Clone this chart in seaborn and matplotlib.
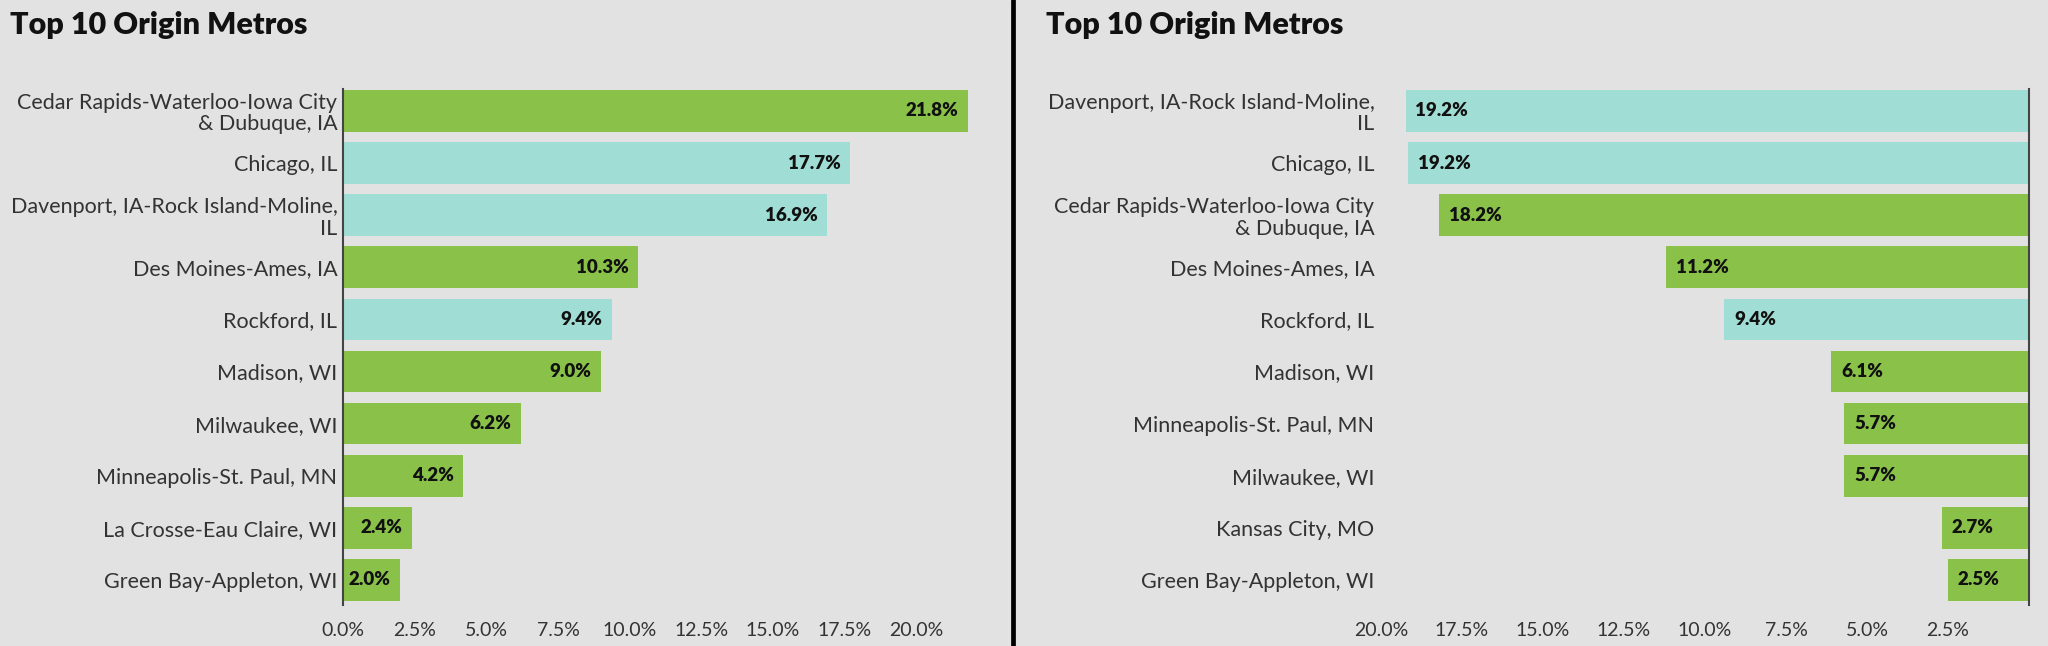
import matplotlib
matplotlib.use('Agg')
import matplotlib.pyplot as plt
import matplotlib.lines as mlines
import seaborn as sns
import pandas as pd

# Data for the two panels
left_metros = ['Cedar Rapids-Waterloo-Iowa City\n& Dubuque, IA', 'Chicago, IL',
               'Davenport, IA-Rock Island-Moline,\nIL', 'Des Moines-Ames, IA', 'Rockford, IL',
               'Madison, WI', 'Milwaukee, WI', 'Minneapolis-St. Paul, MN',
               'La Crosse-Eau Claire, WI', 'Green Bay-Appleton, WI']
left_share = [21.8, 17.7, 16.9, 10.3, 9.4, 9.0, 6.2, 4.2, 2.4, 2.0]
left_state = ['other', 'IL', 'IL', 'other', 'IL', 'other', 'other', 'other', 'other', 'other']

right_metros = ['Davenport, IA-Rock Island-Moline,\nIL', 'Chicago, IL',
                'Cedar Rapids-Waterloo-Iowa City\n& Dubuque, IA', 'Des Moines-Ames, IA',
                'Rockford, IL', 'Madison, WI', 'Minneapolis-St. Paul, MN', 'Milwaukee, WI',
                'Kansas City, MO', 'Green Bay-Appleton, WI']
right_share = [19.24, 19.16, 18.2, 11.2, 9.4, 6.1, 5.7, 5.7, 2.7, 2.5]
right_state = ['IL', 'IL', 'other', 'other', 'IL', 'other', 'other', 'other', 'other', 'other']

title = 'Top 10 Origin Metros'
left_ticks = [0, 2.5, 5, 7.5, 10, 12.5, 15, 17.5, 20]
right_ticks = [20, 17.5, 15, 12.5, 10, 7.5, 5, 2.5]

GREEN = '#8AC249'
TEAL = '#A0DDD4'
BG = '#E2E2E2'
palette = {'IL': TEAL, 'other': GREEN}

sns.set_theme(style='white', rc={'figure.facecolor': BG, 'axes.facecolor': BG})
plt.rcParams['font.family'] = ['Lato', 'DejaVu Sans']

W, H = 2048, 646
fig = plt.figure(figsize=(W / 100, H / 100), dpi=100)


def draw_panel(ax, metros, share, state, ticks, inverted):
    df = pd.DataFrame({'metro': metros, 'share': share, 'state': state})
    sns.barplot(data=df, x='share', y='metro', hue='state', palette=palette,
                orient='h', width=0.8, dodge=False, legend=False, ax=ax, saturation=1,
                linewidth=0, edgecolor='none')
    ax.set_ylim(9.48, -0.42)
    ax.set_xlabel('')
    ax.set_ylabel('')
    ax.set_xticks(ticks)
    ax.set_xticklabels([f'{t:.1f}%' for t in ticks])
    ax.tick_params(axis='x', length=0, pad=12, labelsize=14, labelcolor='#333333')
    ax.tick_params(axis='y', length=0, pad=4, labelsize=15.5, labelcolor='#333333')
    for lbl in ax.get_yticklabels():
        lbl.set_linespacing(1.1)
    for s in ax.spines.values():
        s.set_visible(False)
    side = 'right' if inverted else 'left'
    ax.spines[side].set_visible(True)
    ax.spines[side].set_color('#444444')
    ax.spines[side].set_linewidth(1.5)
    # value labels inside the bar ends
    for i, v in enumerate(share):
        if inverted:
            ax.annotate(f'{v:.1f}%', (v, i), xytext=(7, 0), textcoords='offset points',
                        ha='left', va='center', fontsize=13.5, fontweight='heavy', color='#111111')
        else:
            ax.annotate(f'{v:.1f}%', (v, i), xytext=(-7, 0), textcoords='offset points',
                        ha='right', va='center', fontsize=13.5, fontweight='heavy', color='#111111')


# left panel
ax1 = fig.add_axes([343 / W, 41 / H, 642 / W, 516 / H])
draw_panel(ax1, left_metros, left_share, left_state, left_ticks, inverted=False)
ax1.set_xlim(0, 22.4)

# right panel (bars grow to the left)
ax2 = fig.add_axes([1380 / W, 41 / H, 649 / W, 516 / H])
draw_panel(ax2, right_metros, right_share, right_state, right_ticks, inverted=True)
ax2.set_xlim(20.03, 0)

fig.text(10 / W, 1 - 25 / H, title, fontsize=22, fontweight='heavy', color='#111111',
         ha='left', va='center')
fig.text(1046 / W, 1 - 25 / H, title, fontsize=22, fontweight='heavy', color='#111111',
         ha='left', va='center')

# divider between the panels
fig.add_artist(mlines.Line2D([1013 / W, 1013 / W], [0, 1], color='black', linewidth=3.4,
                             transform=fig.transFigure))

fig.savefig('out.png', dpi=100, facecolor=BG)
